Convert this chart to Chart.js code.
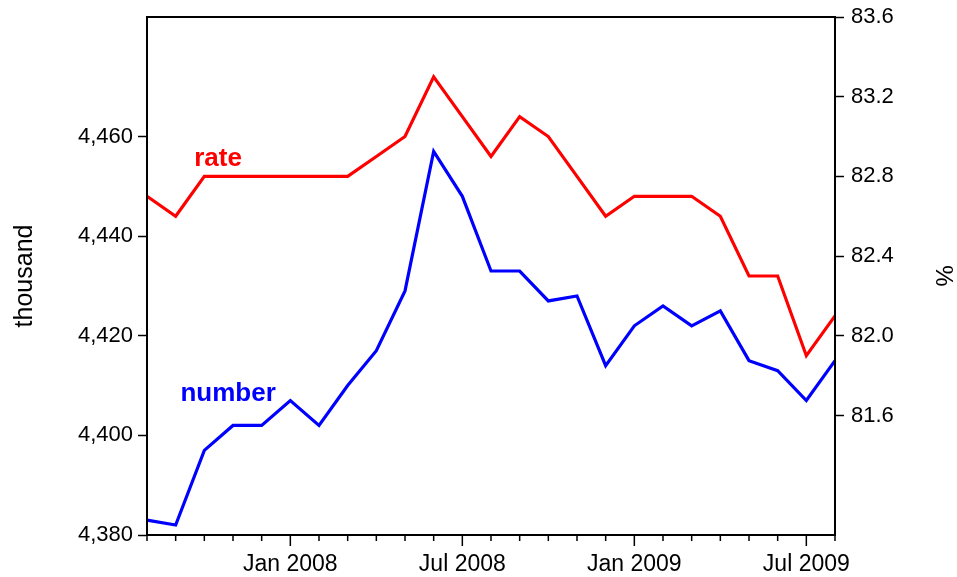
<!DOCTYPE html>
<html>
<head>
<meta charset="utf-8">
<script src="https://cdn.jsdelivr.net/npm/chart.js@4.4.1/dist/chart.umd.min.js"></script>
<style>
  body { margin: 0; background: #fff; }
  #c { display: block; }
</style>
</head>
<body>
<canvas id="c" width="957" height="577"></canvas>
<script>
// months, Aug 2007 .. Aug 2009
const months = ['Aug 2007','Sep 2007','Oct 2007','Nov 2007','Dec 2007',
    'Jan 2008','Feb 2008','Mar 2008','Apr 2008','May 2008','Jun 2008','Jul 2008',
    'Aug 2008','Sep 2008','Oct 2008','Nov 2008','Dec 2008',
    'Jan 2009','Feb 2009','Mar 2009','Apr 2009','May 2009','Jun 2009','Jul 2009','Aug 2009'];
const numberVals = [4383, 4382, 4397, 4402, 4402, 4407, 4402, 4410, 4417, 4429, 4457, 4448,
    4433, 4433, 4427, 4428, 4414, 4422, 4426, 4422, 4425, 4415, 4413, 4407, 4415];
const rateVals = [82.7, 82.6, 82.8, 82.8, 82.8, 82.8, 82.8, 82.8, 82.9, 83.0, 83.3, 83.1,
    82.9, 83.1, 83.0, 82.8, 82.6, 82.7, 82.7, 82.7, 82.6, 82.3, 82.3, 81.9, 82.1];
const leftTicks = [4380, 4400, 4420, 4440, 4460];
const rightTicks = [81.6, 82.0, 82.4, 82.8, 83.2, 83.6];
const xTickLabels = ['Jan 2008', 'Jul 2008', 'Jan 2009', 'Jul 2009'];

const tickFont = { family: "'Liberation Sans', Arial, sans-serif", size: 22 };

// frame, month tick marks and the in-plot labels
const extras = {
    id: 'extras',
    afterDraw(chart) {
        const ctx = chart.ctx;
        const a = chart.chartArea;
        const x = chart.scales.x;
        ctx.save();
        ctx.strokeStyle = '#000';
        ctx.lineWidth = 2;
        ctx.strokeRect(a.left, a.top, a.right - a.left, a.bottom - a.top);
        ctx.lineWidth = 1.5;
        months.forEach(function(m, i){
            const px = x.getPixelForValue(i);
            const len = xTickLabels.includes(m) ? 11 : 6;
            ctx.beginPath();
            ctx.moveTo(px, a.bottom);
            ctx.lineTo(px, a.bottom + len);
            ctx.stroke();
        });
        ctx.font = "bold 26px 'Liberation Sans', Arial, sans-serif";
        ctx.textAlign = 'center';
        ctx.textBaseline = 'alphabetic';
        ctx.fillStyle = '#ff0000';
        ctx.fillText('rate', x.getPixelForValue(2.48), chart.scales.y1.getPixelForValue(82.85));
        ctx.fillStyle = '#0000ff';
        ctx.fillText('number', x.getPixelForValue(2.83), chart.scales.y.getPixelForValue(4407));
        ctx.restore();
    }
};

// no extra room for half labels, the plot box is fixed by layout padding
function fitY(w){
    return function(s){ s.width = w; s.paddingTop = 0; s.paddingBottom = 0; };
}

new Chart(document.getElementById('c'), {
    type: 'line',
    data: {
        labels: months,
        datasets: [{
            label: 'number',
            data: numberVals,
            yAxisID: 'y',
            borderColor: '#0000ff',
            borderWidth: 3.2,
            pointRadius: 0,
            tension: 0
        }, {
            label: 'rate',
            data: rateVals,
            yAxisID: 'y1',
            borderColor: '#ff0000',
            borderWidth: 3.2,
            pointRadius: 0,
            tension: 0
        }]
    },
    options: {
        responsive: false,
        animation: false,
        layout: { padding: { top: 17, left: 0, right: 0, bottom: 0 } },
        plugins: { legend: { display: false }, tooltip: { enabled: false } },
        scales: {
            x: {
                offset: false,
                grid: { display: false },
                border: { display: true, color: '#000', width: 2 },
                ticks: {
                    autoSkip: false,
                    maxRotation: 0,
                    padding: 8,
                    color: '#000',
                    font: { family: "'Liberation Sans', Arial, sans-serif", size: 23 },
                    callback: function(v, i){ return xTickLabels.includes(months[i]) ? months[i] : ''; }
                },
                afterFit: function(s){ s.height = 42; s.paddingLeft = 0; s.paddingRight = 0; }
            },
            y: {
                position: 'left',
                min: 4380,
                max: 4484,
                grid: { drawOnChartArea: false, tickLength: 9, tickColor: '#000', tickWidth: 1.5 },
                border: { display: true, color: '#000', width: 2 },
                ticks: {
                    color: '#000',
                    font: tickFont,
                    padding: 5,
                    callback: function(v){ return v.toLocaleString('en-US'); }
                },
                afterBuildTicks: function(s){ s.ticks = leftTicks.map(v => ({ value: v })); },
                title: {
                    display: true,
                    text: 'thousand',
                    color: '#000',
                    font: { family: "'Liberation Sans', Arial, sans-serif", size: 25 },
                    padding: { top: 10, bottom: 0 }
                },
                afterFit: fitY(147)
            },
            y1: {
                position: 'right',
                min: 81.0,
                max: 83.6,
                grid: { drawOnChartArea: false, tickLength: 9, tickColor: '#000', tickWidth: 1.5 },
                border: { display: true, color: '#000', width: 2 },
                ticks: {
                    color: '#000',
                    font: tickFont,
                    padding: 7,
                    callback: function(v){ return v.toFixed(1); }
                },
                afterBuildTicks: function(s){ s.ticks = rightTicks.map(v => ({ value: v })); },
                title: {
                    display: true,
                    text: '%',
                    color: '#000',
                    font: { family: "'Liberation Sans', Arial, sans-serif", size: 24 },
                    padding: { top: 0, bottom: 0 }
                },
                afterFit: fitY(122)
            }
        }
    },
    plugins: [extras]
});
</script>
</body>
</html>
